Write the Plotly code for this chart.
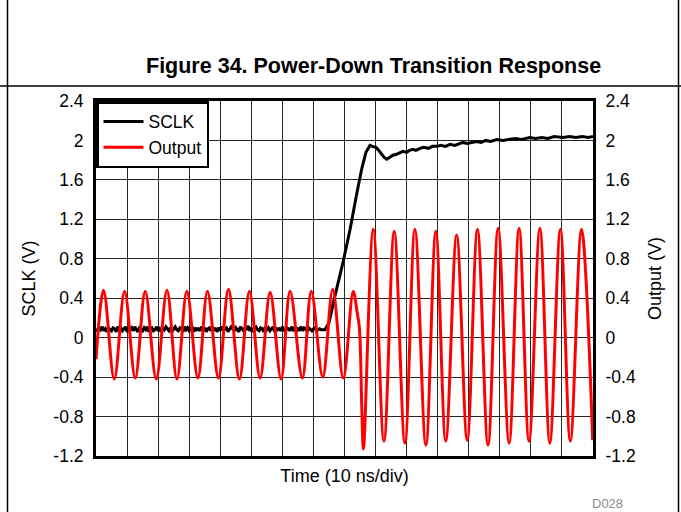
import plotly.graph_objects as go

# SCLK waveform: time (ns) and level (V) -- idle level before the edge
sclk_idle_t = [
    0, 0.5, 1, 1.5, 2, 2.5, 3, 3.5, 4, 4.5, 5, 5.5, 6, 6.5, 7, 7.5, 8, 8.5, 9, 9.5,
    10, 10.5, 11, 11.5, 12, 12.5, 13, 13.5, 14, 14.5, 15, 15.5, 16, 16.5, 17, 17.5,
    18, 18.5, 19, 19.5, 20, 20.5, 21, 21.5, 22, 22.5, 23, 23.5, 24, 24.5, 25, 25.5,
    26, 26.5, 27, 27.5, 28, 28.5, 29, 29.5, 30, 30.5, 31, 31.5, 32, 32.5, 33, 33.5,
    34, 34.5, 35, 35.5, 36, 36.5, 37, 37.5, 38, 38.5, 39, 39.5, 40, 40.5, 41, 41.5,
    42, 42.5, 43, 43.5, 44, 44.5, 45, 45.5, 46, 46.5, 47, 47.5, 48, 48.5, 49, 49.5,
    50, 50.5, 51, 51.5, 52, 52.5, 53, 53.5, 54, 54.5, 55, 55.5, 56, 56.5, 57, 57.5,
    58, 58.5, 59, 59.5, 60, 60.5, 61, 61.5, 62, 62.5, 63, 63.5, 64, 64.5, 65, 65.5,
    66, 66.5, 67, 67.5, 68, 68.5, 69, 69.5, 70, 70.5, 71, 71.5, 72, 72.5, 73]
sclk_idle_v = [
    0.09, 0.07, 0.10, 0.08, 0.11, 0.07, 0.09, 0.06, 0.10, 0.08,
    0.07, 0.10, 0.09, 0.06, 0.11, 0.08, 0.10, 0.07, 0.09, 0.11,
    0.06, 0.09, 0.08, 0.10, 0.07, 0.11, 0.08, 0.06, 0.10, 0.09,
    0.07, 0.10, 0.08, 0.11, 0.06, 0.09, 0.10, 0.07, 0.08, 0.11,
    0.07, 0.09, 0.06, 0.10, 0.08, 0.11, 0.09, 0.07, 0.10, 0.06,
    0.09, 0.11, 0.08, 0.07, 0.10, 0.09, 0.06, 0.11, 0.08, 0.10,
    0.07, 0.09, 0.11, 0.06, 0.10, 0.08, 0.09, 0.07, 0.11, 0.08,
    0.10, 0.06, 0.09, 0.10, 0.07, 0.11, 0.08, 0.09, 0.06, 0.10,
    0.08, 0.11, 0.07, 0.09, 0.10, 0.06, 0.08, 0.11, 0.09, 0.07,
    0.10, 0.08, 0.06, 0.11, 0.09, 0.07, 0.10, 0.08, 0.12, 0.07,
    0.09, 0.06, 0.10, 0.11, 0.08, 0.07, 0.10, 0.09, 0.06, 0.11,
    0.08, 0.10, 0.07, 0.09, 0.11, 0.06, 0.10, 0.08, 0.09, 0.07,
    0.11, 0.08, 0.06, 0.10, 0.09, 0.07, 0.11, 0.08, 0.10, 0.06,
    0.09, 0.08, 0.11, 0.07, 0.10, 0.09, 0.06, 0.10, 0.08, 0.07,
    0.09, 0.10, 0.07, 0.08, 0.09, 0.08, 0.08]

# SCLK rising edge and settled high level
sclk_high_t = [73.7, 75.0, 76.6, 79.5, 81.8, 84.0, 85.6, 86.9, 88.2, 89.0, 90.1, 91.0,
               91.7, 92.7, 93.6, 94.5, 95.6, 96.7, 97.8, 98.8, 100, 101, 102, 103,
               104.3, 105.5, 107, 108.3, 109.7, 111, 112.5, 114, 115.5, 117, 118.1,
               119.5, 121, 122.5, 124, 125.5, 127, 129, 131, 133, 135, 137, 139.6,
               141.5, 143.5, 145.5, 147.5, 150.3, 152.5, 154.5, 156.5, 158.5, 160]
sclk_high_v = [0.08, 0.15, 0.38, 0.76, 1.10, 1.47, 1.72, 1.88, 1.95, 1.94, 1.93, 1.90,
               1.87, 1.83, 1.81, 1.83, 1.85, 1.86, 1.88, 1.89, 1.88, 1.90, 1.91, 1.90,
               1.92, 1.93, 1.92, 1.94, 1.94, 1.95, 1.94, 1.96, 1.95, 1.97, 1.98,
               1.97, 1.98, 1.99, 1.98, 2.00, 1.99, 2.01, 2.00, 2.01, 2.02, 2.01, 2.03,
               2.02, 2.03, 2.02, 2.04, 2.03, 2.04, 2.03, 2.04, 2.03, 2.04]

# Output waveform: turning points, time (ns) and level (V)
out_t = [0, 2.44, 5.88, 9.2, 12.64, 15.85, 19.39, 22.83, 26.05, 29.26, 32.8, 35.88,
         39.42, 42.64, 46.17, 49.39, 52.83, 56.05, 59.58, 62.48, 66.43, 69.3, 73.0,
         76.2, 79.6, 82.8, 84.1, 84.8, 85.6, 86.1, 89.26, 92.7, 96.0, 99.45, 102.67,
         106.2, 109.4, 112.6, 116.1, 119.5, 122.8, 126.2, 129.45, 133.0, 136.2, 139.4,
         142.9, 146.1, 149.5, 152.7, 156.3, 159.9]
out_v = [-0.22, 0.48, -0.42, 0.47, -0.41, 0.47, -0.42, 0.48, -0.42, 0.47, -0.41, 0.47,
         -0.41, 0.49, -0.42, 0.47, -0.41, 0.46, -0.42, 0.47, -0.41, 0.47, -0.40,
         0.49, -0.41, 0.47, 0.25, 0.10, -0.75, -1.13, 1.10, -1.05, 1.08, -1.07, 1.10,
         -1.09, 1.08, -1.05, 1.04, -1.04, 1.10, -1.09, 1.11, -1.07, 1.11, -1.05,
         1.11, -1.07, 1.10, -1.05, 1.10, -1.04]

y_ticks = [-1.2, -0.8, -0.4, 0, 0.4, 0.8, 1.2, 1.6, 2, 2.4]
y_tick_text = ["-1.2", "-0.8", "-0.4", "0", "0.4", "0.8", "1.2", "1.6", "2", "2.4"]
x_grid = [0, 10, 20, 30, 40, 50, 60, 70, 80, 90, 100, 110, 120, 130, 140, 150, 160]

FONT = "Liberation Sans, Arial, sans-serif"

fig = go.Figure()
fig.add_trace(go.Scatter(x=sclk_idle_t + sclk_high_t, y=sclk_idle_v + sclk_high_v,
                         name="SCLK", mode="lines",
                         line=dict(color="black", width=3), yaxis="y"))
fig.add_trace(go.Scatter(x=out_t, y=out_v, name="Output", mode="lines",
                         line=dict(color="#ff0000", width=3, shape="spline", smoothing=1),
                         yaxis="y2"))

L, R, T, B = 96, 88, 101, 56
W, H = 681, 512
pw, ph = W - L - R, H - T - B


def px(xp):
    return (xp - L) / pw


def py(yp):
    return (H - B - yp) / ph


fig.update_layout(
    width=W, height=H,
    margin=dict(l=L, r=R, t=T, b=B, pad=0),
    paper_bgcolor="white", plot_bgcolor="white",
    font=dict(family=FONT, size=18, color="black"),
    showlegend=True,
    legend=dict(x=0, y=1, xanchor="left", yanchor="top", bgcolor="white",
                bordercolor="black", borderwidth=2.5, font=dict(size=17.5),
                itemwidth=40, tracegroupgap=0),
    xaxis=dict(range=[0, 160], tickvals=x_grid, showticklabels=False, ticks="",
               showgrid=True, gridcolor="#262626", gridwidth=1, zeroline=False,
               showline=True, linecolor="black", linewidth=3, mirror=True,
               title=dict(text="Time (10 ns/div)", font=dict(size=18), standoff=12)),
    yaxis=dict(range=[-1.2, 2.4], tickvals=y_ticks, ticktext=y_tick_text, ticks="",
               showgrid=True, gridcolor="#262626", gridwidth=1, zeroline=False,
               showline=True, linecolor="black", linewidth=3,
               tickfont=dict(size=17.5), ticklabelstandoff=6,
               title=dict(text="SCLK (V)", font=dict(size=18), standoff=14)),
    yaxis2=dict(range=[-1.2, 2.4], tickvals=y_ticks, ticktext=y_tick_text, ticks="",
                overlaying="y", side="right", showgrid=False, zeroline=False,
                showline=True, linecolor="black", linewidth=3,
                tickfont=dict(size=17.5), ticklabelstandoff=6,
                title=dict(text="Output (V)", font=dict(size=18), standoff=14)),
    annotations=[
        dict(text="<b>Figure 34. Power-Down Transition Response</b>", xref="paper",
             yref="paper", x=px(373.5), y=py(66), xanchor="center", yanchor="middle",
             showarrow=False, font=dict(size=21.5, family=FONT)),
        dict(text="D028", xref="paper", yref="paper", x=px(590), y=py(503),
             xanchor="left", yanchor="middle", showarrow=False,
             font=dict(size=13, color="#8c8c8c", family=FONT)),
        dict(text="D028", xref="paper", yref="paper", x=px(590), y=py(-5),
             xanchor="left", yanchor="middle", showarrow=False,
             font=dict(size=13, color="#8c8c8c", family=FONT)),
    ],
    shapes=[
        dict(type="line", xref="paper", yref="paper", x0=px(7.5), x1=px(7.5),
             y0=py(0), y1=py(512), line=dict(color="black", width=1.5)),
        dict(type="line", xref="paper", yref="paper", x0=px(678.5), x1=px(678.5),
             y0=py(0), y1=py(512), line=dict(color="black", width=1.5)),
        dict(type="line", xref="paper", yref="paper", x0=px(0), x1=px(681),
             y0=py(86), y1=py(86), line=dict(color="black", width=1.5)),
    ],
)

fig.write_html("out.html")
